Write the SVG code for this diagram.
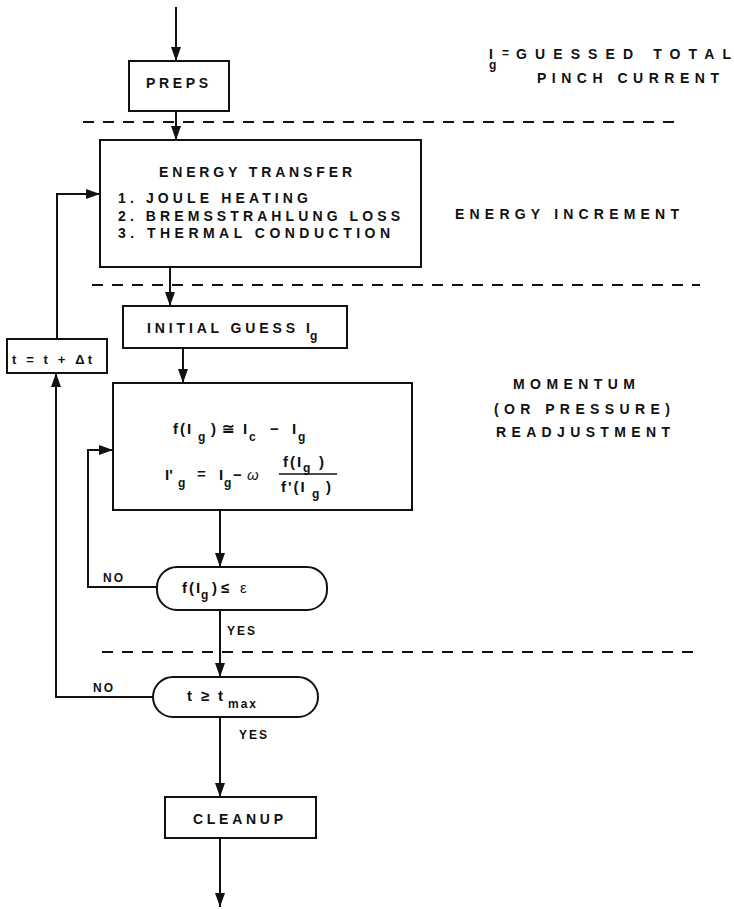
<svg xmlns="http://www.w3.org/2000/svg" width="734" height="909" viewBox="0 0 734 909">
<style>
.box{fill:#fff;stroke:#111;stroke-width:2}
.conn{fill:none;stroke:#111;stroke-width:2}
.dash{fill:none;stroke:#111;stroke-width:2;stroke-dasharray:11 9}
.t{font-family:"Liberation Sans",Arial,sans-serif;font-weight:bold;fill:#111;font-size:14px}
.sm{font-size:12px}
.m{font-family:"Liberation Sans",Arial,sans-serif;font-weight:bold;fill:#111;font-size:15px}
.sub{font-size:12px}
</style>
<defs>
<marker id="ah" viewBox="0 0 14 10" refX="14" refY="5" markerWidth="14" markerHeight="10" markerUnits="userSpaceOnUse" orient="auto"><path d="M0,0 L14,5 L0,10 z" fill="#111"/></marker>
</defs>
<rect width="734" height="909" fill="#fff"/>

<g id="dividers">
<line class="dash" x1="83" y1="122" x2="680" y2="122"/>
<line class="dash" x1="92" y1="285" x2="700" y2="285"/>
<line class="dash" x1="102" y1="652" x2="697" y2="652"/>
</g>

<g id="connectors">
<line class="conn" x1="176" y1="7" x2="176" y2="61" marker-end="url(#ah)"/>
<line class="conn" x1="176" y1="111" x2="176" y2="140" marker-end="url(#ah)"/>
<line class="conn" x1="170" y1="267" x2="170" y2="306" marker-end="url(#ah)"/>
<line class="conn" x1="183" y1="348" x2="183" y2="383" marker-end="url(#ah)"/>
<line class="conn" x1="220" y1="510" x2="220" y2="567" marker-end="url(#ah)"/>
<polyline class="conn" points="157,587 88,587 88,450 113,450" marker-end="url(#ah)"/>
<line class="conn" x1="220" y1="610" x2="220" y2="677" marker-end="url(#ah)"/>
<polyline class="conn" points="153,697 56,697 56,373" marker-end="url(#ah)"/>
<polyline class="conn" points="57,339 57,194 100,194" marker-end="url(#ah)"/>
<line class="conn" x1="220" y1="717" x2="220" y2="797" marker-end="url(#ah)"/>
<line class="conn" x1="220" y1="838" x2="220" y2="907" marker-end="url(#ah)"/>
<text class="t sm" x="103" y="582" letter-spacing="2">NO</text>
<text class="t sm" x="227" y="635" letter-spacing="2">YES</text>
<text class="t sm" x="93" y="692" letter-spacing="2">NO</text>
<text class="t sm" x="239" y="739" letter-spacing="2">YES</text>
</g>

<g id="preps">
<rect class="box" x="129" y="61" width="100" height="50"/>
<text class="t" x="146" y="88" textLength="62" lengthAdjust="spacing">PREPS</text>
</g>

<g id="energy-transfer">
<rect class="box" x="100" y="140" width="321" height="127"/>
<text class="t" x="159" y="177" textLength="193" lengthAdjust="spacing">ENERGY TRANSFER</text>
<text class="t" x="118" y="203" textLength="190" lengthAdjust="spacing">1. JOULE HEATING</text>
<text class="t" x="118" y="221" textLength="282" lengthAdjust="spacing">2. BREMSSTRAHLUNG LOSS</text>
<text class="t" x="118" y="238" textLength="272" lengthAdjust="spacing">3. THERMAL CONDUCTION</text>
</g>

<g id="initial-guess">
<rect class="box" x="123" y="306" width="224" height="42"/>
<text class="t" x="147" y="333"><tspan textLength="148" lengthAdjust="spacing">INITIAL GUESS</tspan><tspan x="306"> </tspan><tspan x="306">I</tspan><tspan class="sub" x="310" dy="7">g</tspan></text>
</g>

<g id="time-step">
<rect class="box" x="7" y="339" width="100" height="34"/>
<text class="t" x="12" y="364" style="font-size:13px" textLength="80" lengthAdjust="spacing">t = t + Δt</text>
</g>

<g id="momentum">
<rect class="box" x="113" y="383" width="299" height="127"/>
<text class="m" y="434"><tspan x="173" letter-spacing="2">f(I</tspan><tspan class="sub" x="198" dy="7">g</tspan><tspan x="211" dy="-7">)</tspan><tspan x="222">≅</tspan><tspan x="243">I</tspan><tspan class="sub" x="249" dy="7">c</tspan><tspan x="270" dy="-7">−</tspan><tspan x="292">I</tspan><tspan class="sub" x="298" dy="7">g</tspan></text>
<text class="m" y="480"><tspan x="165">I'</tspan><tspan class="sub" x="178" dy="7">g</tspan><tspan x="197" dy="-8">=</tspan><tspan x="219" dy="1">I</tspan><tspan class="sub" x="224" dy="7">g</tspan><tspan x="233" dy="-7">−</tspan><tspan x="247" font-style="italic" font-weight="normal">ω</tspan></text>
<text class="m" y="467"><tspan x="283" letter-spacing="2">f(I</tspan><tspan class="sub" x="303" dy="5">g</tspan><tspan x="319" dy="-5">)</tspan></text>
<line x1="279" y1="474" x2="337" y2="474" stroke="#111" stroke-width="1.6"/>
<text class="m" y="492"><tspan x="281" letter-spacing="2">f'(I</tspan><tspan class="sub" x="312" dy="6">g</tspan><tspan x="326" dy="-6">)</tspan></text>
</g>

<g id="converged">
<rect class="box" x="157" y="567" width="170" height="43" rx="20" ry="20"/>
<text class="m" y="593"><tspan x="182" letter-spacing="2">f(I</tspan><tspan class="sub" x="201" dy="6">g</tspan><tspan x="212" dy="-6">)</tspan><tspan x="221">≤</tspan><tspan x="240" font-weight="normal">ε</tspan></text>
</g>

<g id="time-check">
<rect class="box" x="153" y="677" width="165" height="40" rx="20" ry="20"/>
<text class="m" y="701"><tspan x="187">t</tspan><tspan x="201">≥</tspan><tspan x="218">t</tspan><tspan class="sub" x="228" dy="7" letter-spacing="2">max</tspan></text>
</g>

<g id="cleanup">
<rect class="box" x="165" y="797" width="151" height="41"/>
<text class="t" x="193" y="824" textLength="90" lengthAdjust="spacing">CLEANUP</text>
</g>

<g id="legend-ig">
<text class="t" y="59"><tspan x="489">I</tspan><tspan class="sub" x="489" dy="10">g</tspan><tspan class="sub" x="502" dy="-12">=</tspan><tspan x="516" dy="2" textLength="215" lengthAdjust="spacing">GUESSED TOTAL</tspan></text>
<text class="t" x="537" y="83" textLength="182" lengthAdjust="spacing">PINCH CURRENT</text>
</g>

<g id="label-energy">
<text class="t" x="455" y="219" textLength="224" lengthAdjust="spacing">ENERGY INCREMENT</text>
</g>

<g id="label-momentum">
<text class="t" x="513" y="389" textLength="122" lengthAdjust="spacing">MOMENTUM</text>
<text class="t" x="494" y="414" textLength="176" lengthAdjust="spacing">(OR PRESSURE)</text>
<text class="t" x="496" y="437" textLength="174" lengthAdjust="spacing">READJUSTMENT</text>
</g>
</svg>
